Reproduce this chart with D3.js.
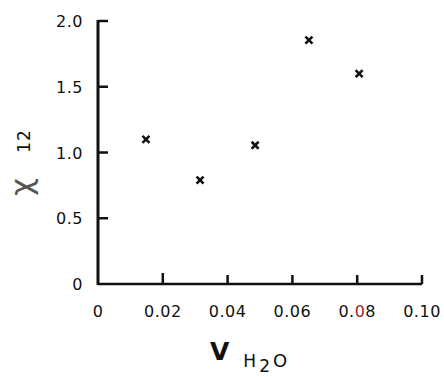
<!DOCTYPE html>
<html>
<head>
<meta charset="utf-8">
<script src="https://cdn.jsdelivr.net/npm/d3@7"></script>
<style>
  body { margin: 0; background: #fff; }
  svg { display: block; }
  text { font-family: "DejaVu Sans", sans-serif; fill: #111; }
</style>
</head>
<body>
<svg id="chart" width="444" height="377"></svg>
<script>
// volume fraction of water vs chi parameter
const vWater = [0.0148, 0.0315, 0.0485, 0.0651, 0.0806];
const chi12 = [1.10, 0.79, 1.055, 1.855, 1.60];
const xTicks = [0, 0.02, 0.04, 0.06, 0.08, 0.10];
const yTicks = [0, 0.5, 1.0, 1.5, 2.0];

const svg = d3.select("#chart");

const x = d3.scaleLinear().domain([0, 0.10]).range([98, 422]);
const y = d3.scaleLinear().domain([0, 2.0]).range([284, 21]);

// axis lines
svg.append("line")
    .attr("x1", x(0)).attr("x2", x(0.10))
    .attr("y1", y(0)).attr("y2", y(0))
    .attr("stroke", "#111").attr("stroke-width", 2.5);
svg.append("line")
    .attr("x1", x(0)).attr("x2", x(0))
    .attr("y1", y(0) + 1).attr("y2", y(2.0) - 1)
    .attr("stroke", "#111").attr("stroke-width", 3);

// ticks pointing inward
svg.selectAll(".xtick").data(xTicks.slice(1)).enter().append("line")
    .attr("class", "xtick")
    .attr("x1", d => x(d)).attr("x2", d => x(d))
    .attr("y1", y(0)).attr("y2", (d, i) => y(0) - (i === 0 ? 11 : 9))
    .attr("stroke", "#111").attr("stroke-width", 2.5);

svg.selectAll(".ytick").data(yTicks.slice(1)).enter().append("line")
    .attr("class", "ytick")
    .attr("x1", x(0)).attr("x2", x(0) + 10)
    .attr("y1", d => y(d)).attr("y2", d => y(d))
    .attr("stroke", "#111").attr("stroke-width", 2.5);

// tick labels
const fmtX = d => d === 0 ? "0" : d.toFixed(2);
const xl = svg.selectAll(".xlab").data(xTicks).enter().append("text")
    .attr("class", "xlab")
    .attr("x", d => x(d))
    .attr("y", 317)
    .attr("text-anchor", "middle")
    .style("font-size", "16px")
    .style("letter-spacing", "0.5px");
xl.each(function(d) {
    const t = d3.select(this);
    const s = fmtX(d);
    if (d === 0.08) {
        // scanned original shows the middle zero tinted red
        t.append("tspan").text(s.slice(0, 2));
        t.append("tspan").text(s[2]).style("fill", "#a0242c");
        t.append("tspan").text(s.slice(3));
    } else {
        t.text(s);
    }
});

svg.selectAll(".ylab").data(yTicks).enter().append("text")
    .attr("class", "ylab")
    .attr("x", 83)
    .attr("y", d => y(d) + 6)
    .attr("text-anchor", "end")
    .style("font-size", "16px")
    .style("letter-spacing", "0.5px")
    .text(d => d === 0 ? "0" : d.toFixed(1));

// markers
const s = 3.5;
svg.selectAll(".pt").data(vWater).enter().append("path")
    .attr("class", "pt")
    .attr("d", (d, i) => {
        const cx = x(d), cy = y(chi12[i]);
        return `M${cx - s},${cy - s}L${cx + s},${cy + s}M${cx + s},${cy - s}L${cx - s},${cy + s}`;
    })
    .attr("stroke", "#111").attr("stroke-width", 2.6);

// y label: chi 12, rotated
const yl = svg.append("g").attr("transform", "rotate(-90)");
yl.append("text")
    .attr("x", -187).attr("y", 32)
    .attr("text-anchor", "middle")
    .style("font-size", "31px").style("fill", "#555")
    .text("χ");
yl.append("text")
    .attr("x", -141).attr("y", 29.5)
    .attr("text-anchor", "middle")
    .style("font-size", "17px")
    .style("letter-spacing", "1px")
    .text("12");

// x label: V H2O
const xlab = svg.append("text").attr("x", 210).attr("y", 360);
xlab.append("tspan").text("V").style("font-size", "25px").style("font-weight", "bold");
xlab.append("tspan").attr("dx", 14).attr("dy", 7).text("H").style("font-size", "17px");
xlab.append("tspan").attr("dx", 3).attr("dy", 5).text("2").style("font-size", "17px");
xlab.append("tspan").attr("dx", 3).attr("dy", -5).text("O").style("font-size", "18px");
</script>
</body>
</html>
